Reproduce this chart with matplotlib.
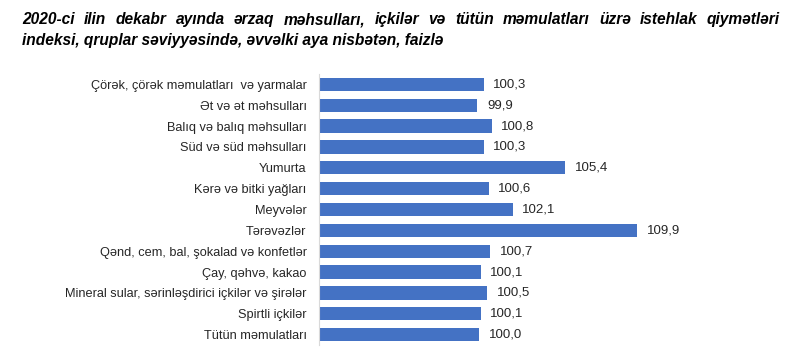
import matplotlib.pyplot as plt
import numpy as np

plt.rcParams['font.family'] = ['Liberation Sans', 'DejaVu Sans']

categories = ['Çörək, çörək məmulatları  və yarmalar', 'Ət və ət məhsulları',
              'Balıq və balıq məhsulları', 'Süd və süd məhsulları', 'Yumurta',
              'Kərə və bitki yağları', 'Meyvələr', 'Tərəvəzlər',
              'Qənd, cem, bal, şokalad və konfetlər', 'Çay, qəhvə, kakao',
              'Mineral sular, sərinləşdirici içkilər və şirələr', 'Spirtli içkilər',
              'Tütün məmulatları']
values = [100.3, 99.9, 100.8, 100.3, 105.4, 100.6, 102.1, 109.9, 100.7, 100.1, 100.5, 100.1, 100.0]
labels = ['100,3', '99,9', '100,8', '100,3', '105,4', '100,6', '102,1', '109,9',
          '100,7', '100,1', '100,5', '100,1', '100,0']
title_lines = ['2020-ci ilin dekabr ayında ərzaq məhsulları, içkilər və tütün məmulatları üzrə istehlak qiymətləri',
               'indeksi, qruplar səviyyəsində, əvvəlki aya nisbətən, faizlə']

base = 90
fig = plt.figure(figsize=(8, 3.56), dpi=100)
ax = fig.add_axes([0.39875, 0.031, 0.5, 0.761])

y = np.arange(len(categories))
ax.barh(y, np.array(values) - base, left=base, height=0.64, color='#4472C4')
for yi, v, lab in zip(y, values, labels):
    ax.text(v + 0.6, yi, lab, va='center', ha='left', fontsize=9.5, color='#262626')

ax.set_xlim(base, 115)
ax.set_ylim(len(categories) - 0.5, -0.5)
ax.set_yticks(y)
ax.set_yticklabels(categories, fontsize=9.2, color='#262626')
ax.tick_params(axis='y', length=0, pad=9)
ax.set_xticks([])
for s in ['top', 'right', 'bottom']:
    ax.spines[s].set_visible(False)
ax.spines['left'].set_color('#d9d9d9')

# first title line is justified between x=22 and x=780 px
tstyle = dict(fontsize=11.2, fontweight='bold', fontstyle='italic', va='center')
words = title_lines[0].split()
r = fig.canvas.get_renderer()
objs = [fig.text(0, 0.944, w, **tstyle) for w in words]
widths = [o.get_window_extent(r).width for o in objs]
x0, x1 = 22, 780
gap = (x1 - x0 - sum(widths)) / (len(words) - 1)
x = x0
for o, w in zip(objs, widths):
    o.set_x(x / 800)
    x += w + gap
fig.text(22 / 800, 0.885, title_lines[1], **tstyle)

fig.savefig('out.png', dpi=100)
